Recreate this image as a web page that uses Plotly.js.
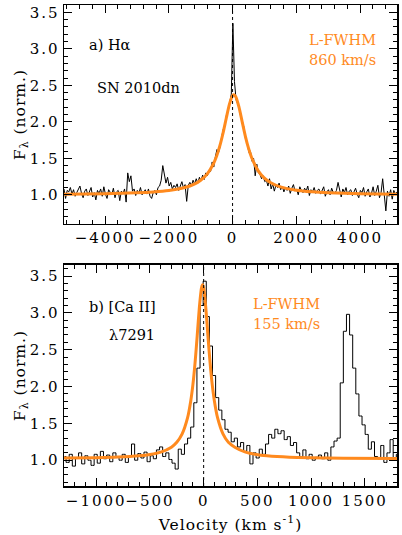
<!DOCTYPE html>
<html>
<head>
<meta charset="utf-8">
<script src="https://cdn.plot.ly/plotly-3.0.1.min.js"></script>
<style>
html,body{margin:0;padding:0;background:#fff;}
#chart{width:402px;height:535px;}
#chart .xtick text, #chart .x2tick text, #chart .ytick text, #chart .y2tick text {letter-spacing:2px;}
#chart .xtitle, #chart .x2title, #chart .ytitle, #chart .y2title {letter-spacing:1px;}
</style>
</head>
<body>
<div id="chart"></div>
<script>
// ---- Panel a) H-alpha, SN 2010dn: observed spectrum (uniform velocity grid) ----
const haStart = -5290;   // km/s, first sample
const haStep = 50;       // km/s, sample spacing
const haFlux = [
  1.08, 0.95, 1.06, 1.04, 1.10, 1.01, 1.07, 0.98, 1.03, 1.09,
  1.12, 1.02, 0.96, 1.05, 1.08, 0.99, 1.04, 1.10, 0.97, 1.03,
  0.93, 1.06, 1.02, 1.08, 0.98, 1.11, 1.01, 0.95, 1.07, 1.03,
  1.00, 1.09, 0.96, 1.04, 1.06, 0.92, 1.05, 1.01, 1.08, 0.90,
  1.30, 1.18, 1.26, 1.05, 1.08, 0.99, 1.06, 1.02, 1.10, 1.00,
  1.04, 1.07, 1.01, 1.08, 0.98, 0.95, 1.03, 1.06, 1.00, 1.10,
  1.12, 1.20, 1.40, 1.30, 1.16, 1.24, 1.12, 1.17, 1.08, 1.13,
  1.10, 1.15, 1.06, 1.12, 1.18, 1.09, 1.14, 0.91, 1.13, 1.17,
  1.12, 1.20, 1.15, 1.22, 1.16, 1.24, 1.19, 1.27, 1.21, 1.30,
  1.26, 1.34, 1.32, 1.45, 1.38, 1.52, 1.62, 1.58, 1.66, 1.80,
  1.90, 1.93, 2.10, 2.15, 2.30, 2.38, 3.35, 2.55, 2.30, 2.25,
  2.20, 2.05, 2.00, 1.92, 1.75, 1.72, 1.58, 1.60, 1.46, 1.50,
  1.26, 1.42, 1.30, 1.28, 1.22, 1.26, 1.18, 1.20, 1.12, 1.22,
  1.08, 1.15, 1.05, 1.13, 1.10, 1.16, 1.07, 1.12, 1.04, 1.10,
  1.06, 1.12, 1.02, 1.09, 1.14, 1.05, 1.08, 1.00, 1.11, 1.06,
  1.03, 1.09, 1.05, 1.12, 0.99, 1.07, 1.04, 1.10, 1.02, 1.06,
  1.08, 1.01, 1.05, 1.11, 0.98, 1.04, 1.07, 1.00, 1.09, 1.03,
  1.02, 1.06, 1.17, 1.04, 0.97, 1.08, 1.03, 1.10, 1.00, 1.05,
  1.07, 0.99, 1.04, 1.09, 1.01, 0.96, 1.06, 1.03, 1.10, 0.98,
  1.04, 1.08, 0.97, 1.02, 1.11, 0.99, 1.05, 1.13, 0.96, 1.03,
  1.22, 1.00, 0.78, 1.05, 0.98, 1.07, 0.94, 1.06, 1.01, 1.04
];
// Lorentzian fit (orange)
const haFitVel  = [-5290, -4000, -3000, -2500, -2000, -1500, -1200, -1000, -800, -600, -500, -400, -300, -200, -100, 0, 40, 100, 200, 300, 400, 500, 600, 800, 1000, 1200, 1500, 2000, 2500, 3000, 4000, 5160];
const haFitFlux = [1.009, 1.015, 1.027, 1.038, 1.058, 1.099, 1.147, 1.200, 1.284, 1.426, 1.532, 1.669, 1.843, 2.045, 2.239, 2.358, 2.370, 2.344, 2.203, 2.003, 1.805, 1.639, 1.508, 1.332, 1.229, 1.166, 1.109, 1.063, 1.041, 1.028, 1.016, 1.009];

// ---- Panel b) [Ca II] 7291: observed spectrum (binned, step plot) ----
const caStart = -1295;
const caStep = 29;
const caFlux = [
  1.05, 0.97, 1.08, 0.92, 1.03, 1.10, 0.95, 1.06, 1.00, 0.93,
  1.08, 0.96, 1.12, 1.02, 1.07, 0.98, 1.10, 1.04, 1.00, 1.08,
  0.97, 1.05, 1.22, 1.00, 1.09, 1.03, 1.11, 0.98, 1.06, 1.02,
  1.14, 1.18, 1.05, 1.10, 1.01, 0.96, 0.88, 1.15, 1.08, 1.22,
  1.30, 1.45, 1.78, 2.25, 3.10, 3.43, 2.95, 2.55, 2.15, 1.85,
  1.68, 1.55, 1.42, 1.38, 1.25, 1.30, 1.18, 1.24, 1.12, 1.20,
  0.95, 1.10, 1.03, 1.15, 1.08, 1.22, 1.35, 1.30, 1.42, 1.36,
  1.40, 1.28, 1.32, 1.20, 1.24, 1.10, 1.05, 1.14, 1.02, 1.08,
  1.00, 1.04, 1.07, 1.02, 1.10, 1.00, 1.18, 1.26, 1.30, 2.05,
  2.75, 2.98, 2.70, 2.25, 1.90, 1.60, 1.48, 1.35, 1.15, 1.25,
  1.05, 1.02, 1.20, 0.97, 1.10, 1.28, 1.00, 1.08
];
const caFitVel  = [-1300, -1000, -800, -600, -500, -400, -300, -250, -200, -150, -120, -100, -80, -60, -40, -20, -10, 0, 20, 40, 60, 80, 100, 130, 180, 230, 290, 390, 490, 590, 800, 1000, 1300, 1800];
const caFitFlux = [1.029, 1.034, 1.042, 1.060, 1.078, 1.110, 1.177, 1.243, 1.357, 1.574, 1.804, 2.025, 2.320, 2.687, 3.072, 3.341, 3.380, 3.341, 3.072, 2.687, 2.320, 2.025, 1.804, 1.574, 1.357, 1.243, 1.177, 1.110, 1.078, 1.060, 1.041, 1.034, 1.028, 1.024];

const ORANGE = '#ff8a1e';
const FONT = "'DejaVu Serif', serif";
const FS = 14.5;

const traces = [
  {x0: haStart, dx: haStep, y: haFlux, type: 'scatter', mode: 'lines', line: {color: '#000', width: 1}, xaxis: 'x', yaxis: 'y', hoverinfo: 'skip'},
  {x: haFitVel, y: haFitFlux, type: 'scatter', mode: 'lines', line: {color: ORANGE, width: 3, shape: 'spline', smoothing: 0.6}, xaxis: 'x', yaxis: 'y', hoverinfo: 'skip'},
  {x0: caStart, dx: caStep, y: caFlux, type: 'scatter', mode: 'lines', line: {color: '#000', width: 1, shape: 'hvh'}, xaxis: 'x2', yaxis: 'y2', hoverinfo: 'skip'},
  {x: caFitVel, y: caFitFlux, type: 'scatter', mode: 'lines', line: {color: ORANGE, width: 3, shape: 'spline', smoothing: 0.6}, xaxis: 'x2', yaxis: 'y2', hoverinfo: 'skip'}
];

const axCommon = {
  showline: true, linecolor: '#000', linewidth: 1.5, mirror: 'allticks',
  ticks: 'inside', ticklen: 8, tickwidth: 1, tickcolor: '#000',
  showgrid: false, zeroline: false,
  tickfont: {family: FONT, size: 15, color: '#000'}
};

const layout = {
  width: 402, height: 535,
  margin: {l: 64, r: 5, t: 5, b: 49},
  paper_bgcolor: '#fff', plot_bgcolor: '#fff',
  showlegend: false,
  font: {family: FONT, color: '#000'},
  xaxis: Object.assign({}, axCommon, {anchor: 'y', domain: [0, 1], range: [-5290, 5160], dtick: 2000, tick0: 0,
    minor: {dtick: 400, ticklen: 4, tickcolor: '#000', ticks: 'inside'}}),
  yaxis: Object.assign({}, axCommon, {anchor: 'x', domain: [0.5447, 1], range: [0.6, 3.6], dtick: 0.5, tick0: 0, tickformat: '.1f',
    minor: {dtick: 0.1, ticklen: 4, tickcolor: '#000', ticks: 'inside'},
    title: {text: 'F<sub>λ</sub> (norm.)', font: {family: FONT, size: 15.5}, standoff: 6}}),
  xaxis2: Object.assign({}, axCommon, {anchor: 'y2', domain: [0, 1], range: [-1300, 1800], dtick: 500, tick0: 0,
    minor: {dtick: 100, ticklen: 4, tickcolor: '#000', ticks: 'inside'},
    title: {text: 'Velocity (km s<sup>-1</sup>)', font: {family: FONT, size: 15.5}, standoff: 10}}),
  yaxis2: Object.assign({}, axCommon, {anchor: 'x2', domain: [0, 0.4595], range: [0.65, 3.65], dtick: 0.5, tick0: 0, tickformat: '.1f',
    minor: {dtick: 0.1, ticklen: 4, tickcolor: '#000', ticks: 'inside'},
    title: {text: 'F<sub>λ</sub> (norm.)', font: {family: FONT, size: 15.5}, standoff: 6}}),
  shapes: [
    {type: 'line', xref: 'x', yref: 'y domain', x0: 0, x1: 0, y0: 0, y1: 1, line: {color: '#000', width: 1, dash: 'dot'}},
    {type: 'line', xref: 'x2', yref: 'y2 domain', x0: 0, x1: 0, y0: 0, y1: 1, line: {color: '#000', width: 1, dash: 'dot'}}
  ],
  annotations: [
    {text: 'a) Hα', xref: 'x domain', yref: 'y domain', x: 0.069, y: 0.817, xanchor: 'left', yanchor: 'middle', showarrow: false, font: {family: FONT, size: FS, color: '#000'}},
    {text: 'SN 2010dn', xref: 'x domain', yref: 'y domain', x: 0.093, y: 0.621, xanchor: 'left', yanchor: 'middle', showarrow: false, font: {family: FONT, size: FS, color: '#000'}},
    {text: 'L-FWHM', xref: 'x domain', yref: 'y domain', x: 0.943, y: 0.838, xanchor: 'right', yanchor: 'middle', showarrow: false, font: {family: FONT, size: FS, color: ORANGE}},
    {text: '860 km/s', xref: 'x domain', yref: 'y domain', x: 0.943, y: 0.750, xanchor: 'right', yanchor: 'middle', showarrow: false, font: {family: FONT, size: FS, color: ORANGE}},
    {text: 'b) [Ca II]', xref: 'x2 domain', yref: 'y2 domain', x: 0.069, y: 0.811, xanchor: 'left', yanchor: 'middle', showarrow: false, font: {family: FONT, size: FS, color: '#000'}},
    {text: 'λ7291', xref: 'x2 domain', yref: 'y2 domain', x: 0.129, y: 0.683, xanchor: 'left', yanchor: 'middle', showarrow: false, font: {family: FONT, size: FS, color: '#000'}},
    {text: 'L-FWHM', xref: 'x2 domain', yref: 'y2 domain', x: 0.775, y: 0.822, xanchor: 'right', yanchor: 'middle', showarrow: false, font: {family: FONT, size: FS, color: ORANGE}},
    {text: '155 km/s', xref: 'x2 domain', yref: 'y2 domain', x: 0.775, y: 0.735, xanchor: 'right', yanchor: 'middle', showarrow: false, font: {family: FONT, size: FS, color: ORANGE}}
  ]
};

Plotly.newPlot('chart', traces, layout, {staticPlot: true, displayModeBar: false});
</script>
</body>
</html>
